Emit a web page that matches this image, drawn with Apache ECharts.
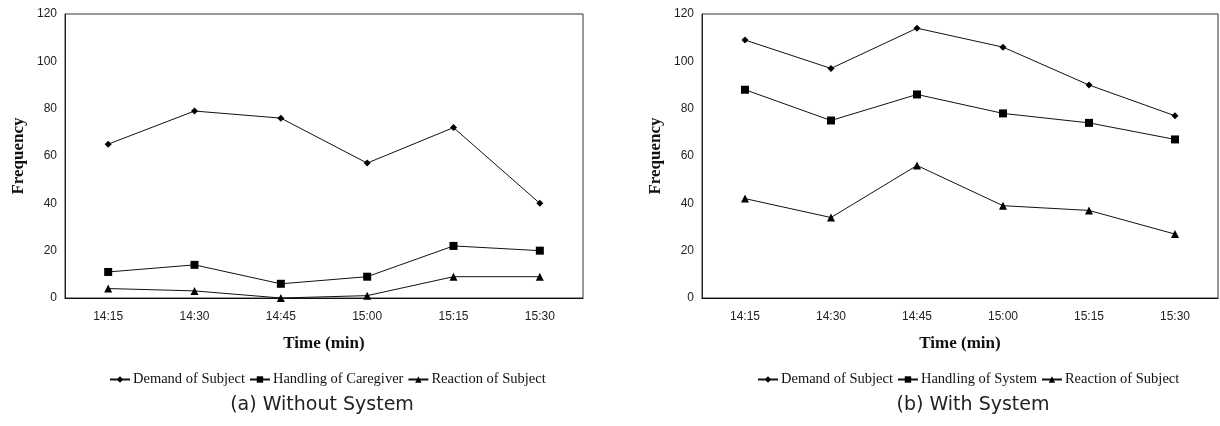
<!DOCTYPE html>
<html>
<head>
<meta charset="utf-8">
<script src="https://cdn.jsdelivr.net/npm/echarts@6/dist/echarts.min.js"></script>
<style>
html,body{margin:0;padding:0;background:#fff;}
#c{width:1220px;height:426px;}
</style>
</head>
<body>
<div id="c"></div>
<script>
const categories = ['14:15', '14:30', '14:45', '15:00', '15:15', '15:30'];
const yTicks = [0, 20, 40, 60, 80, 100, 120];

// (a) Without System
const demandA = [65, 79, 76, 57, 72, 40];
const handlingCaregiverA = [11, 14, 6, 9, 22, 20];
const reactionA = [4, 3, 0, 1, 9, 9];

// (b) With System
const demandB = [109, 97, 114, 106, 90, 77];
const handlingSystemB = [88, 75, 86, 78, 74, 67];
const reactionB = [42, 34, 56, 39, 37, 27];

const namesA = ['Demand of Subject', 'Handling of Caregiver', 'Reaction of Subject'];
const namesB = ['Demand of Subject', 'Handling of System', 'Reaction of Subject'];
const captions = ['(a) Without System', '(b) With System'];

const serif = '"Liberation Serif", "Times New Roman", serif';
const sans = '"Liberation Sans", Arial, sans-serif';

const symbols = ['diamond', 'rect', 'triangle'];
const symbolSizes = [7, 8, 8];

function xAxis(gi) {
  return {
    type: 'category', gridIndex: gi, data: categories, boundaryGap: true,
    axisLine: { lineStyle: { color: '#111', width: 1 } },
    axisTick: { show: false },
    axisLabel: { color: '#222', fontFamily: sans, fontSize: 12, margin: 13 },
    name: 'Time (min)', nameLocation: 'middle', nameGap: 37,
    nameTextStyle: { color: '#111', fontFamily: serif, fontSize: 17, fontWeight: 'bold' }
  };
}
function yAxis(gi) {
  return {
    type: 'value', gridIndex: gi, min: yTicks[0], max: yTicks[yTicks.length - 1], interval: 20,
    axisLine: { show: true, lineStyle: { color: '#222', width: 1 } },
    axisTick: { show: false },
    splitLine: { show: false },
    axisLabel: { color: '#222', fontFamily: sans, fontSize: 12, margin: 8 },
    name: 'Frequency', nameLocation: 'middle', nameGap: 38,
    nameTextStyle: { color: '#111', fontFamily: serif, fontSize: 17, fontWeight: 'bold' }
  };
}
function mkSeries(names, datas, gi) {
  return names.map((n, i) => ({
    name: n, type: 'line', xAxisIndex: gi, yAxisIndex: gi, data: datas[i],
    symbol: symbols[i], symbolSize: symbolSizes[i], showSymbol: true,
    lineStyle: { color: '#111', width: 1 },
    itemStyle: { color: '#000' },
    emphasis: { disabled: true }
  }));
}
function mkLegend(names, left) {
  return {
    data: names, left: left, top: 367,
    itemWidth: 20, itemHeight: 8, itemGap: 4,
    textStyle: { color: '#111', fontFamily: serif, fontSize: 14.5, padding: [0, 0, 0, -2] },
    selectedMode: false
  };
}

const chart = echarts.init(document.getElementById('c'));
chart.setOption({
  animation: false,
  backgroundColor: '#fff',
  grid: [
    { left: 65, right: 637, top: 14, bottom: 128, show: true, borderColor: '#333', borderWidth: 1 },
    { left: 702, right: 2, top: 14, bottom: 128, show: true, borderColor: '#333', borderWidth: 1 }
  ],
  xAxis: [xAxis(0), xAxis(1)],
  yAxis: [yAxis(0), yAxis(1)],
  legend: [mkLegend(namesA, 104), mkLegend(namesB, 752)],
  series: [
    ...mkSeries(namesA, [demandA, handlingCaregiverA, reactionA], 0),
    ...mkSeries(namesB, [demandB, handlingSystemB, reactionB], 1)
  ],
  graphic: [
    { type: 'text', x: 322, y: 405, style: { text: captions[0], font: '19px "DejaVu Sans", sans-serif', fill: '#222', align: 'center', verticalAlign: 'middle' } },
    { type: 'text', x: 973, y: 405, style: { text: captions[1], font: '19px "DejaVu Sans", sans-serif', fill: '#222', align: 'center', verticalAlign: 'middle' } }
  ]
});
</script>
</body>
</html>
